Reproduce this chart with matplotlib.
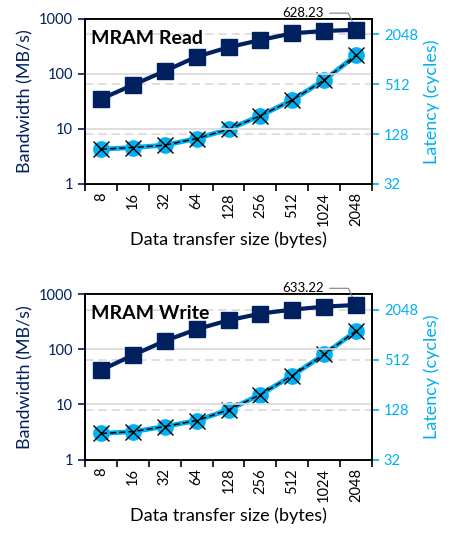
import numpy as np
import matplotlib.pyplot as plt
from matplotlib.ticker import FixedLocator, NullFormatter, NullLocator

plt.rcParams['font.family'] = ['Lato', 'DejaVu Sans']

# =============================================================================
# Data
# =============================================================================
sizes = ['8', '16', '32', '64', '128', '256', '512', '1024', '2048']

read_bw = [34.9, 62.6, 112, 204, 303, 410, 543, 598, 628.23]
read_lat = [84, 88, 94, 113, 146, 213, 329, 573, 1141]

write_bw = [41.7, 77.9, 141, 230, 334, 442, 522, 590, 633.22]
write_lat = [66, 69.5, 80, 94.5, 127, 194, 329, 590, 1132]

titles = ['MRAM Read', 'MRAM Write']
peaks = ['628.23', '633.22']

navy = '#002060'
sky = '#00B0F0'

fig = plt.figure(figsize=(4.51, 5.37), dpi=100)
positions = [[0.1885, 0.6574, 0.6364, 0.3078],
             [0.1885, 0.1441, 0.6364, 0.3084]]


def panel(pos, bw, lat, title, peak):
    ax = fig.add_axes(pos)
    x = np.arange(len(sizes))

    ax2 = ax.twinx()
    ax.set_zorder(ax2.get_zorder() + 1)
    ax.patch.set_visible(False)

    # left axis: bandwidth
    ax.set_yscale('log')
    ax.set_ylim(1, 1000)
    ax.set_xlim(-0.5, len(sizes) - 0.5)
    ax.yaxis.set_major_locator(FixedLocator([1, 10, 100, 1000]))
    ax.yaxis.set_minor_locator(NullLocator())
    ax.set_yticklabels(['1', '10', '100', '1000'])
    ax.grid(axis='y', color='#d9d9d9', lw=1.2)
    ax.set_axisbelow(True)
    ax.tick_params(axis='y', colors=navy, labelsize=10.5, direction='out',
                   length=5, width=1.2)
    ax.set_ylabel('Bandwidth (MB/s)', color=navy, fontsize=13)

    # x axis: ticks at boundaries, labels at centers
    ax.xaxis.set_major_locator(FixedLocator(np.arange(-0.5, len(sizes), 1.0)))
    ax.xaxis.set_major_formatter(NullFormatter())
    ax.xaxis.set_minor_locator(FixedLocator(x))
    ax.set_xticklabels(sizes, minor=True, rotation=90)
    ax.tick_params(axis='x', which='major', length=5, width=1.2, direction='out')
    ax.tick_params(axis='x', which='minor', length=0, labelsize=10.5, pad=6)
    ax.set_xlabel('Data transfer size (bytes)', fontsize=13)

    # right axis: latency
    ax2.set_yscale('log', base=2)
    ax2.set_ylim(32, 3150)
    ax2.yaxis.set_major_locator(FixedLocator([32, 128, 512, 2048]))
    ax2.yaxis.set_minor_locator(NullLocator())
    ax2.set_yticklabels(['32', '128', '512', '2048'])
    ax2.tick_params(axis='y', colors=sky, labelsize=10.5, direction='out',
                    length=5, width=1.2)
    ax2.set_ylabel('Latency (cycles)', color=sky, fontsize=13)
    for v in (128, 512, 2048):
        ax2.axhline(v, color='#d9d9d9', lw=1.2, ls=(0, (5, 3)), zorder=0)

    for a in (ax, ax2):
        for s in a.spines.values():
            s.set_color('black')
            s.set_linewidth(1.3)

    # series
    ax2.plot(x, lat, color=sky, lw=3.5, marker='o', ms=11, zorder=3)
    ax2.plot(x, lat, color='black', lw=1.1, ls=(0, (4, 2)), marker='x',
             ms=12, mew=1.0, zorder=4)
    ax.plot(x, bw, color=navy, lw=3, marker='s', ms=12, zorder=5)

    ax.text(0.02, 0.88, title, transform=ax.transAxes, fontsize=14,
            fontweight='bold', va='center', ha='left')
    ax.annotate(peak, xy=(x[-1], bw[-1]), xytext=(-38, 12),
                textcoords='offset points', ha='center', va='center',
                fontsize=9.5, annotation_clip=False,
                arrowprops=dict(arrowstyle='-', color='#7f7f7f', lw=0.8,
                                shrinkA=2, shrinkB=4,
                                connectionstyle='angle,angleA=0,angleB=115,rad=0'))
    return ax


panel(positions[0], read_bw, read_lat, titles[0], peaks[0])
panel(positions[1], write_bw, write_lat, titles[1], peaks[1])

fig.savefig('out.png', dpi=100)
